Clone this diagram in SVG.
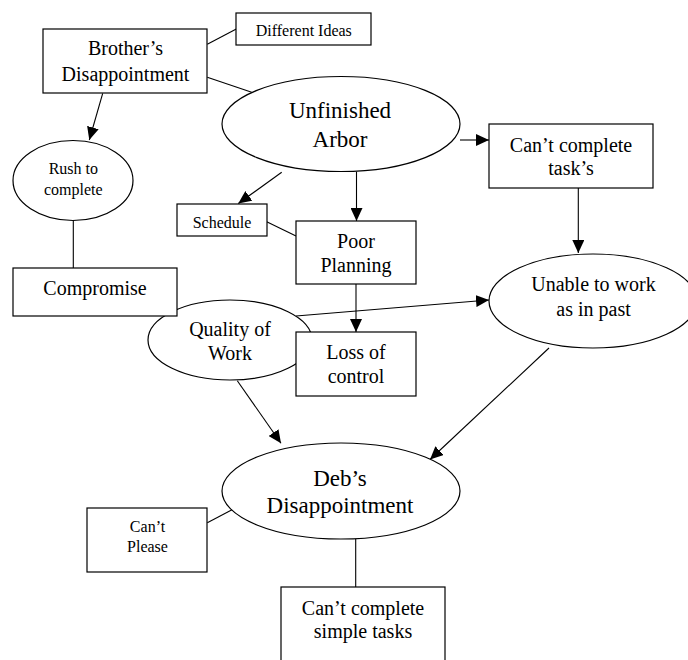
<svg xmlns="http://www.w3.org/2000/svg" width="688" height="660" viewBox="0 0 688 660">
<style>
.n{fill:#fff;stroke:#000;stroke-width:1.2}
.c line{stroke:#000;stroke-width:1.1}
text{font-family:"Liberation Serif","Times New Roman",serif;fill:#000;text-anchor:middle}
.s16{font-size:16px}
.s20{font-size:20px}
.s23{font-size:23px}
</style>
<defs>
<marker id="ah" markerWidth="13" markerHeight="12" refX="13" refY="6" orient="auto" markerUnits="userSpaceOnUse">
<path d="M0,0 L13,6 L0,12 z" fill="#000"/>
</marker>
</defs>
<rect width="688" height="660" fill="#fff"/>
<g id="connectors" class="c">
<line x1="207.3" y1="44.3" x2="236.3" y2="29"/>
<line x1="207.3" y1="77.3" x2="251.7" y2="92.3"/>
<line x1="102.7" y1="93.3" x2="89.3" y2="140" marker-end="url(#ah)"/>
<line x1="73.3" y1="220.7" x2="73.3" y2="268"/>
<line x1="281.7" y1="172.3" x2="238.3" y2="203.5" marker-end="url(#ah)"/>
<line x1="266.7" y1="221.7" x2="296" y2="236"/>
<line x1="356.5" y1="171.7" x2="356.5" y2="221" marker-end="url(#ah)"/>
<line x1="460" y1="140" x2="489" y2="140" marker-end="url(#ah)"/>
<line x1="578.3" y1="188" x2="578.3" y2="253" marker-end="url(#ah)"/>
<line x1="356" y1="284" x2="356" y2="332" marker-end="url(#ah)"/>
<line x1="296" y1="316" x2="489" y2="300" marker-end="url(#ah)"/>
<line x1="237.3" y1="380.7" x2="281" y2="443.3" marker-end="url(#ah)"/>
<line x1="549" y1="348" x2="430" y2="459.5" marker-end="url(#ah)"/>
<line x1="207.3" y1="522.7" x2="236.7" y2="507.3"/>
<line x1="355.7" y1="539" x2="355.7" y2="587"/>
</g>
<g id="brother">
<rect class="n" x="43" y="29" width="164" height="64"/>
<text class="s20" x="125.5" y="55">Brother’s</text>
<text class="s20" x="125.5" y="81">Disappointment</text>
</g>
<g id="ideas">
<rect class="n" x="236" y="13" width="135" height="32"/>
<text class="s16" x="303.8" y="35.7">Different Ideas</text>
</g>
<g id="rush">
<ellipse class="n" cx="73" cy="180.5" rx="60" ry="40"/>
<text class="s16" x="73.3" y="174.3">Rush to</text>
<text class="s16" x="73.3" y="195">complete</text>
</g>
<g id="unfinished">
<ellipse class="n" cx="341" cy="124" rx="119" ry="47.5"/>
<text class="s23" x="340" y="118.3">Unfinished</text>
<text class="s23" x="340" y="146.7">Arbor</text>
</g>
<g id="tasks">
<rect class="n" x="489" y="124" width="164" height="64"/>
<text class="s20" x="571" y="151.7">Can’t complete</text>
<text class="s20" x="571" y="175">task’s</text>
</g>
<g id="schedule">
<rect class="n" x="177" y="204" width="90" height="32"/>
<text class="s16" x="222" y="228.3">Schedule</text>
</g>
<g id="poor">
<rect class="n" x="296" y="221" width="120" height="63"/>
<text class="s20" x="356" y="247.7">Poor</text>
<text class="s20" x="356" y="271.7">Planning</text>
</g>
<g id="quality">
<ellipse class="n" cx="230" cy="340" rx="82" ry="40"/>
<text class="s20" x="230" y="335.7">Quality of</text>
<text class="s20" x="230" y="360">Work</text>
</g>
<g id="compromise">
<rect class="n" x="13" y="268" width="164" height="48"/>
<text class="s20" x="95" y="295">Compromise</text>
</g>
<g id="loss">
<rect class="n" x="296" y="332" width="120" height="64"/>
<text class="s20" x="356" y="359.3">Loss of</text>
<text class="s20" x="356" y="383.3">control</text>
</g>
<g id="unable">
<ellipse class="n" cx="593" cy="301" rx="104" ry="47"/>
<text class="s20" x="593.5" y="291">Unable to work</text>
<text class="s20" x="593.5" y="316">as in past</text>
</g>
<g id="debs">
<ellipse class="n" cx="341" cy="491" rx="119" ry="48"/>
<text class="s23" x="340" y="485.7">Deb’s</text>
<text class="s23" x="340" y="513.3">Disappointment</text>
</g>
<g id="please">
<rect class="n" x="87" y="508" width="120" height="64"/>
<text class="s16" x="147.5" y="531.7">Can’t</text>
<text class="s16" x="147.5" y="551.7">Please</text>
</g>
<g id="simple">
<rect class="n" x="281" y="587" width="164" height="80"/>
<text class="s20" x="363" y="615">Can’t complete</text>
<text class="s20" x="363" y="638.3">simple tasks</text>
</g>
</svg>
